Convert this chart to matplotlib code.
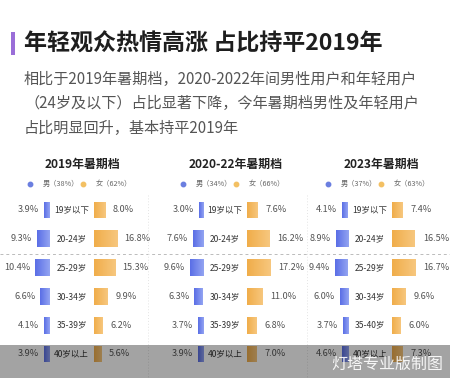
import numpy as np
import matplotlib.pyplot as plt
from matplotlib.patches import Rectangle
from matplotlib.lines import Line2D
from matplotlib.colors import LinearSegmentedColormap

plt.rcParams['font.family'] = ['Noto Sans CJK SC', 'DejaVu Sans']

# data
title = "年轻观众热情高涨 占比持平2019年"
subtitle = ["相比于2019年暑期档，2020-2022年间男性用户和年轻用户",
            "（24岁及以下）占比显著下降，今年暑期档男性及年轻用户",
            "占比明显回升，基本持平2019年"]
periods = ["2019年暑期档", "2020-22年暑期档", "2023年暑期档"]
ages = [["19岁以下", "20-24岁", "25-29岁", "30-34岁", "35-39岁", "40岁以上"],
        ["19岁以下", "20-24岁", "25-29岁", "30-34岁", "35-39岁", "40岁以上"],
        ["19岁以下", "20-24岁", "25-29岁", "30-34岁", "35-40岁", "40岁以上"]]
male_share = [38, 34, 37]
female_share = [62, 66, 63]
male_2019 = [3.9, 9.3, 10.4, 6.6, 4.1, 3.9]
female_2019 = [8.0, 16.8, 15.3, 9.9, 6.2, 5.6]
male_2022 = [3.0, 7.6, 9.6, 6.3, 3.7, 3.9]
female_2022 = [7.6, 16.2, 17.2, 11.0, 6.8, 7.0]
male_2023 = [4.1, 8.9, 9.4, 6.0, 3.7, 4.6]
female_2023 = [7.4, 16.5, 16.7, 9.6, 6.0, 7.3]
males = [male_2019, male_2022, male_2023]
females = [female_2019, female_2022, female_2023]

blue_cm = LinearSegmentedColormap.from_list("b", ["#5a6ee6", "#93a4f2"])
orange_cm = LinearSegmentedColormap.from_list("o", ["#f0ad4a", "#f7c77e"])
W, H = 450, 378
PX = 1.38          # pixels per percent
GAP = 22 / PX      # half gap between the two bars
centers = [71.5, 225, 370]
grad = np.linspace(0, 1, 50).reshape(1, -1)

def fx(x):
    return x / W

def fy(y):
    return 1 - y / H

def fill_gradient(ax, bars, cmap):
    for p in bars:
        p.set_facecolor("none")
        x0, y0, w, h = p.get_x(), p.get_y(), p.get_width(), p.get_height()
        x1 = x0 + w
        im = ax.imshow(grad, cmap=cmap, aspect="auto",
                       extent=(min(x0, x1), max(x0, x1), y0 + h, y0))
        im.set_clip_path(p)

fig = plt.figure(figsize=(4.5, 3.78), dpi=100)

# title block
fig.add_artist(Rectangle((fx(11), fy(55)), 4 / W, 23 / H, transform=fig.transFigure,
                         color="#9a6ed8", lw=0))
fig.text(fx(24), fy(44), title, fontsize=16.6, fontweight="bold", color="#1e1e1e",
         va="center", ha="left")
for i, line in enumerate(subtitle):
    fig.text(fx(24), fy(79 + 24.5 * i), line, fontsize=10.9, color="#555555",
             va="center", ha="left")

# separators
fig.add_artist(Line2D([0, 1], [fy(253.5)] * 2, transform=fig.transFigure,
                      color="#bbbbbb", lw=0.7, ls=(0, (3, 3))))
for x in [148, 307]:
    fig.add_artist(Line2D([fx(x)] * 2, [fy(195), 0], transform=fig.transFigure,
                          color="#e4e4e4", lw=0.7, ls=(0, (1, 2))))

for k, c in enumerate(centers):
    ax = fig.add_axes([fx(c - 75), fy(368.4), 150 / W, 172.8 / H])
    y = range(6)
    mb = ax.barh(y, [-m for m in males[k]], left=-GAP, height=0.59, lw=0)
    fb = ax.barh(y, females[k], left=GAP, height=0.59, lw=0)
    fill_gradient(ax, mb, blue_cm)
    fill_gradient(ax, fb, orange_cm)
    ax.set_xlim(-75 / PX, 75 / PX)
    ax.set_ylim(5.5, -0.5)
    ax.axis("off")
    for i in y:
        m, f = males[k][i], females[k][i]
        ax.text(0, i, ages[k][i], ha="center", va="center", fontsize=6.1, color="#333333")
        ax.annotate(f"{m:.1f}%", xy=(-GAP - m, i), xytext=(-5, 0), textcoords="offset pixels",
                    ha="right", va="center", fontsize=6.6, color="#555555")
        ax.annotate(f"{f:.1f}%", xy=(GAP + f, i), xytext=(8, 0), textcoords="offset pixels",
                    ha="left", va="center", fontsize=6.6, color="#555555")

    fig.text(fx(c + 11), fy(164), periods[k], fontsize=8.6, fontweight="bold",
             color="#222222", ha="center", va="center")
    fig.add_artist(Line2D([fx(c - 42)], [fy(184)], transform=fig.transFigure, marker="o",
                          ms=3.2, color="#6b7fe0", lw=0))
    fig.text(fx(c - 29), fy(184), f"男（{male_share[k]}%）", fontsize=5.2, color="#666666",
             ha="left", va="center")
    fig.add_artist(Line2D([fx(c + 11)], [fy(184)], transform=fig.transFigure, marker="o",
                          ms=3.2, color="#f3c063", lw=0))
    fig.text(fx(c + 24), fy(184), f"女（{female_share[k]}%）", fontsize=5.2, color="#666666",
             ha="left", va="center")

# watermark band
fig.add_artist(Rectangle((0, 0), 1, 33 / H, transform=fig.transFigure, color="black",
                         alpha=0.36, lw=0, zorder=10))
fig.text(fx(387), fy(364), "灯塔专业版制图", fontsize=11.5, color="white", alpha=0.9,
         ha="center", va="center", zorder=11)

fig.savefig("out.png", dpi=100)
